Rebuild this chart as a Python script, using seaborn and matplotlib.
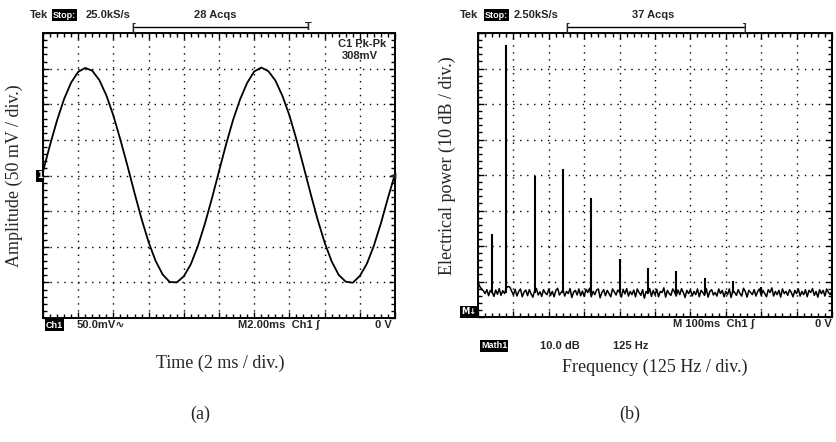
import numpy as np
import pandas as pd
import seaborn as sns
import matplotlib.pyplot as plt
from matplotlib.lines import Line2D
from matplotlib.ticker import MultipleLocator

# (a) scope trace, mV every 0.4 ms (0.2 div)
time_ms = np.arange(0, 20.01, 0.4)
amp_mv = [5.5, 43, 77.5, 107.5, 130.5, 145.5, 151, 147, 134, 112.5, 84, 50, 13.5,
          -24.5, -61, -93.5, -120, -139, -149.5, -150, -141.5, -124.5, -99, -67.5, -32,
          6, 43.5, 78, 107, 130, 146, 151.5, 146.5, 133.5, 112, 84.5, 50.5, 13,
          -25, -61.5, -94, -120.5, -139.5, -149, -150.5, -141, -124, -98.5, -67, -31.5, 2]

# (b) spectrum, level in divisions (10 dB / div), noise floor every 6.25 Hz
noise_floor = [
    0.98, 0.86, 0.79, 0.74, 0.66, 0.77, 0.60, 0.75, 0.70, 0.58, 0.76, 0.64, 0.80, 0.61, 0.74, 0.66, 0.82, 0.86, 0.84, 0.73,
    0.62, 0.78, 0.59, 0.72, 0.79, 0.57, 0.70, 0.76, 0.60, 0.77, 0.65, 0.56, 0.74, 0.80, 0.62, 0.71, 0.58, 0.77, 0.68, 0.63,
    0.79, 0.61, 0.72, 0.57, 0.75, 0.81, 0.62, 0.69, 0.77, 0.59, 0.72, 0.66, 0.80, 0.55, 0.70, 0.75, 0.62, 0.79, 0.60, 0.73,
    0.58, 0.78, 0.69, 0.81, 0.57, 0.72, 0.63, 0.76, 0.79, 0.54, 0.69, 0.77, 0.60, 0.75, 0.66, 0.57, 0.79, 0.71, 0.62, 0.76,
    0.70, 0.56, 0.78, 0.65, 0.80, 0.59, 0.72, 0.63, 0.76, 0.57, 0.79, 0.69, 0.61, 0.77, 0.53, 0.72, 0.66, 0.80, 0.58, 0.75,
    0.62, 0.78, 0.57, 0.72, 0.69, 0.82, 0.56, 0.75, 0.66, 0.61, 0.79, 0.71, 0.59, 0.76, 0.63, 0.80, 0.69, 0.55, 0.75, 0.66,
    0.77, 0.59, 0.72, 0.63, 0.79, 0.57, 0.75, 0.69, 0.61, 0.80, 0.56, 0.72, 0.77, 0.62, 0.69, 0.59, 0.79, 0.66, 0.75, 0.57,
    0.72, 0.63, 0.79, 0.55, 0.75, 0.69, 0.61, 0.77, 0.66, 0.59, 0.81, 0.72, 0.56, 0.75, 0.69, 0.63, 0.77, 0.59, 0.72, 0.79,
    0.61, 0.75, 0.66, 0.57, 0.77, 0.69, 0.82, 0.59, 0.72, 0.63, 0.75, 0.56, 0.79, 0.66, 0.72, 0.61, 0.77, 0.69, 0.57, 0.75,
    0.66, 0.79, 0.59, 0.72, 0.63, 0.77, 0.57, 0.75, 0.69, 0.80, 0.61, 0.72, 0.56, 0.77, 0.66, 0.75, 0.59, 0.79, 0.69, 0.63,
    0.74]
noise_hz = np.linspace(0, 1250, len(noise_floor))
peak_hz = [50, 100, 200, 300, 400, 500, 600, 700, 800, 900, 1000]
peak_div = [2.34, 7.66, 3.97, 4.17, 3.35, 1.63, 1.38, 1.30, 1.10, 1.01, 0.85]

sns.set_style("white")
plt.rcParams['font.family'] = ['DejaVu Sans']
W, H = 836, 442
fig = plt.figure(figsize=(W / 100, H / 100), dpi=100)

def fx(x, y):
    return (x / W, 1 - y / H)

def scope_axes(ax, xmax, xmaj, ymin, ymax, ymaj):
    ax.set_xlim(0, xmax)
    ax.set_ylim(ymin, ymax)
    ax.xaxis.set_major_locator(MultipleLocator(xmaj))
    ax.xaxis.set_minor_locator(MultipleLocator(xmaj / 5))
    ax.yaxis.set_major_locator(MultipleLocator(ymaj))
    ax.yaxis.set_minor_locator(MultipleLocator(ymaj / 5))
    ax.tick_params(which='both', direction='in', top=True, right=True, bottom=True, left=True,
                   labelbottom=False, labelleft=False, color='k')
    ax.tick_params(which='major', length=4, width=1)
    ax.tick_params(which='minor', length=3, width=1)
    ax.grid(True, which='major', color='k', linestyle=(0, (1, 4)), linewidth=1.0)
    for s in ax.spines.values():
        s.set_color('k')
        s.set_linewidth(1.4)
    ax.set_xlabel('')
    ax.set_ylabel('')

# ---- (a)
ax1 = fig.add_axes([43 / W, 1 - 318 / H, 352 / W, 285 / H])
df_a = pd.DataFrame({'t': time_ms, 'v': amp_mv})
sns.lineplot(data=df_a, x='t', y='v', ax=ax1, color='k', linewidth=1.3)
scope_axes(ax1, 20, 2, -200, 200, 50)

# ---- (b)
ax2 = fig.add_axes([478 / W, 1 - 317 / H, 354 / W, 284 / H])
df_b = pd.DataFrame({'f': noise_hz, 'p': noise_floor})
sns.lineplot(data=df_b, x='f', y='p', ax=ax2, color='k', linewidth=1.1)
ax2.vlines(peak_hz, 0.68, peak_div, color='k', linewidth=1.5)
scope_axes(ax2, 1250, 125, 0, 8, 1)

# scope annotations
st = dict(fontsize=8, fontweight='bold', family=['Liberation Sans', 'DejaVu Sans'], va='center')
sti = dict(fontsize=6.5, fontweight='bold', family=['Liberation Sans', 'DejaVu Sans'], va='center',
           color='white')
inv = dict(facecolor='black', edgecolor='none', pad=0.8)

fig.text(*fx(30, 15), 'Tek', ha='left', **st)
fig.text(*fx(53, 15), 'Stop:', ha='left', bbox=inv, **sti)
fig.text(*fx(86, 15), '25.0kS/s', ha='left', **st)
fig.text(*fx(215, 15), '28 Acqs', ha='center', **st)
fig.add_artist(Line2D([133 / W, 308 / W], [1 - 27 / H] * 2, color='k', lw=1, transform=fig.transFigure))
fig.text(*fx(133, 28), '[', ha='center', **st)
fig.text(*fx(308, 27), 'T', ha='center', **st)
fig.text(*fx(386, 44), 'C1 Pk-Pk', ha='right', **st)
fig.text(*fx(378, 56), '308mV', ha='right', **st)
fig.text(*fx(46, 325), 'Ch1', ha='left', bbox=inv, **sti)
fig.text(*fx(77, 325), '50.0mV\u223f', ha='left', **st)
fig.text(*fx(238, 325), 'M2.00ms  Ch1 \u0283', ha='left', **st)
fig.text(*fx(392, 325), '0 V', ha='right', **st)
fig.text(*fx(37, 176), '1', ha='left', color='white', fontsize=6, fontweight='bold', va='center',
         bbox=dict(facecolor='black', edgecolor='none', pad=0.8))
fig.text(*fx(396, 176), '\u25c0', ha='right', va='center', fontsize=6)

fig.text(*fx(460, 15), 'Tek', ha='left', **st)
fig.text(*fx(485, 15), 'Stop:', ha='left', bbox=inv, **sti)
fig.text(*fx(514, 15), '2.50kS/s', ha='left', **st)
fig.text(*fx(653, 15), '37 Acqs', ha='center', **st)
fig.add_artist(Line2D([567 / W, 745 / W], [1 - 27 / H] * 2, color='k', lw=1, transform=fig.transFigure))
fig.text(*fx(567, 28), '[', ha='center', **st)
fig.text(*fx(745, 28), ']', ha='center', **st)
fig.text(*fx(673, 324), 'M 100ms  Ch1 \u0283', ha='left', **st)
fig.text(*fx(832, 324), '0 V', ha='right', **st)
fig.text(*fx(461, 312), 'M\u2193', ha='left', color='white', fontsize=6, fontweight='bold', va='center',
         bbox=dict(facecolor='black', edgecolor='none', pad=0.8))
fig.text(*fx(481, 346), 'Math1', ha='left', bbox=inv, **sti)
fig.text(*fx(540, 346), '10.0 dB', ha='left', **st)
fig.text(*fx(613, 346), '125 Hz', ha='left', **st)

# figure labels
serif = dict(family=['Liberation Serif', 'DejaVu Serif'], fontsize=13)
fig.text(*fx(220, 363), 'Time (2 ms / div.)', ha='center', va='center', **serif)
fig.text(*fx(14, 176), 'Amplitude (50 mV / div.)', ha='center', va='center', rotation=90, **serif)
fig.text(*fx(655, 367), 'Frequency (125 Hz / div.)', ha='center', va='center', **serif)
fig.text(*fx(447, 166), 'Electrical power (10 dB / div.)', ha='center', va='center', rotation=90, **serif)
fig.text(*fx(200, 414), '(a)', ha='center', va='center', **serif)
fig.text(*fx(630, 414), '(b)', ha='center', va='center', **serif)

fig.savefig('out.png', dpi=100)
